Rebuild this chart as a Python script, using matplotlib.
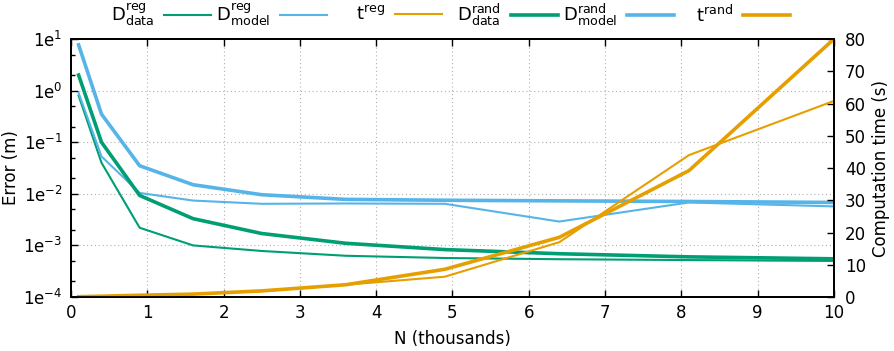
import math
import matplotlib
matplotlib.use("Agg")
import matplotlib.pyplot as plt
from matplotlib.ticker import LogLocator, FuncFormatter, FixedLocator, NullFormatter

plt.rcParams["font.family"] = ["DejaVu Sans"]
plt.rcParams["font.size"] = 12
plt.rcParams["mathtext.default"] = "regular"

# problem size (thousands of points)
n = [0.1, 0.4, 0.9, 1.6, 2.5, 3.6, 4.9, 6.4, 8.1, 10.0]

# errors (m)
d_data_reg = [0.8, 0.04, 0.0022, 0.001, 0.00078, 0.00063, 0.00057, 0.00054, 0.00052, 0.0005]
d_model_reg = [0.9, 0.053, 0.0104, 0.0074, 0.0064, 0.0065, 0.0064, 0.0029, 0.0068, 0.0057]
d_data_rand = [2.0, 0.1, 0.0093, 0.0033, 0.0017, 0.0011, 0.00083, 0.00069, 0.0006, 0.00055]
d_model_rand = [7.7, 0.35, 0.035, 0.015, 0.0096, 0.0078, 0.0075, 0.0073, 0.0071, 0.0068]

# computation time (s)
t_reg = [0.1, 0.25, 0.55, 0.9, 1.8, 3.8, 6.3, 17.0, 44.0, 60.8]
t_rand = [0.1, 0.25, 0.55, 0.9, 1.9, 3.8, 8.6, 18.5, 39.2, 80.0]

labels = [r"D$^{reg}_{data}$", r"D$^{reg}_{model}$", r"t$^{reg}$",
          r"D$^{rand}_{data}$", r"D$^{rand}_{model}$", r"t$^{rand}$"]

GREEN = "#009e73"
BLUE = "#56b4e9"
ORANGE = "#e69f00"
THIN = 1.5
THICK = 2.6

fig = plt.figure(figsize=(8.95, 3.51), dpi=100)
ax = fig.add_axes([0.0793, 0.1538, 0.8525, 0.7351])
ax2 = ax.twinx()

lines = []
lines += ax.plot(n, d_data_reg, color=GREEN, lw=THIN)
lines += ax.plot(n, d_model_reg, color=BLUE, lw=THIN)
lines += ax2.plot(n, t_reg, color=ORANGE, lw=THIN)
lines += ax.plot(n, d_data_rand, color=GREEN, lw=THICK)
lines += ax.plot(n, d_model_rand, color=BLUE, lw=THICK)
lines += ax2.plot(n, t_rand, color=ORANGE, lw=THICK)

ax.set_yscale("log")
ax.set_xlim(0, 10)
ax.set_ylim(1e-4, 1e1)
ax2.set_ylim(0, 80)

ax.set_xticks(range(0, 11))
ax.yaxis.set_major_locator(FixedLocator([1e-4, 1e-3, 1e-2, 1e-1, 1e0, 1e1]))
ax.yaxis.set_major_formatter(FuncFormatter(lambda v, pos: "1e$^{%d}$" % round(math.log10(v))))
ax.yaxis.set_minor_locator(LogLocator(base=10, subs=(2, 5)))
ax.yaxis.set_minor_formatter(NullFormatter())
ax2.set_yticks(range(0, 81, 10))

ax.grid(True, which="major", color="#b0b0b0", lw=0.8, linestyle=(0, (1, 2.5)))

ax.tick_params(axis="x", which="both", direction="in", top=True, length=5, width=1, pad=5)
ax.tick_params(axis="y", which="major", direction="in", right=False, length=5, width=1, pad=6)
ax.tick_params(axis="y", which="minor", direction="in", right=False, length=3, width=1)
ax2.tick_params(axis="y", direction="in", length=5, width=1, pad=8)

for a in (ax, ax2):
    for sp in a.spines.values():
        sp.set_linewidth(1.3)

ax.set_xlabel("N (thousands)", labelpad=6)
ax.set_ylabel("Error (m)", labelpad=2)
ax2.set_ylabel("Computation time (s)", labelpad=4)

# key entries sit in a row above the plot, text before the sample line
line_ends = [211, 327, 442, 558, 674, 790]
for h, lab, xe in zip(lines, labels, line_ends):
    fig.legend([h], [lab], loc="center right", bbox_to_anchor=(xe / 895, 1 - 15 / 351),
               frameon=False, markerfirst=False, handlelength=2.6, handletextpad=0.55,
               borderpad=0, borderaxespad=0, fontsize=13)

fig.savefig("out.png", dpi=100)
